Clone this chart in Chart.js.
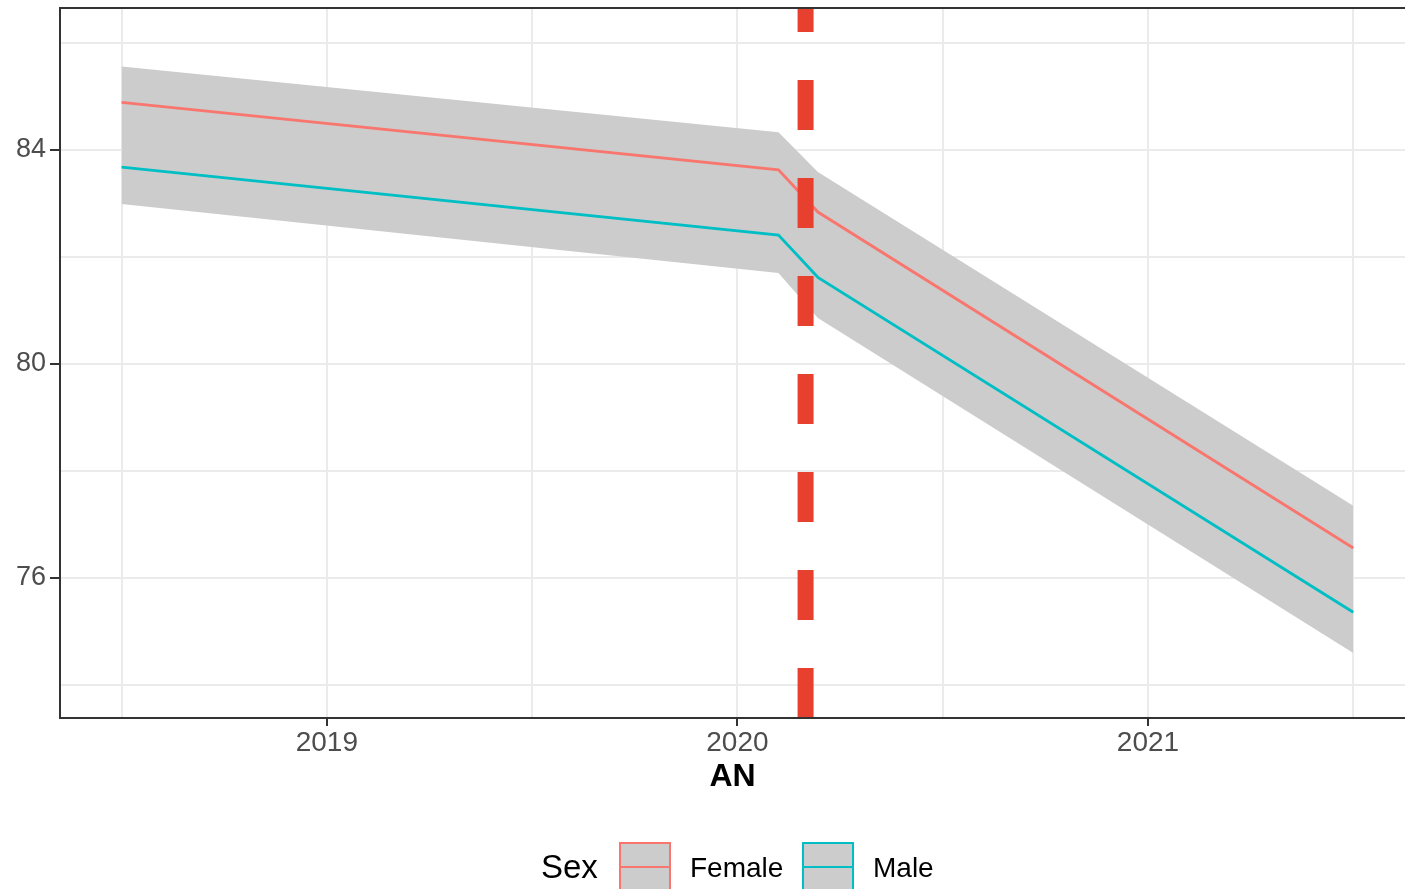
<!DOCTYPE html>
<html>
<head>
<meta charset="utf-8">
<script src="https://cdn.jsdelivr.net/npm/chart.js@4"></script>
<style>
  html, body { margin: 0; padding: 0; background: #ffffff; overflow: hidden; }
  #wrap { width: 1405px; height: 889px; position: relative; }
</style>
</head>
<body>
<div id="wrap"><canvas id="chart"></canvas></div>
<script>
// time axis (decimal years) where the fitted lines bend
const years = [2018.5, 2020.1, 2020.196, 2021.5];
const female = [84.89, 83.63, 82.84, 76.56];
const male = [83.68, 82.41, 81.62, 75.36];
const ribbonUpper = [85.56, 84.33, 83.59, 77.35];
const ribbonLower = [82.99, 81.70, 80.86, 74.60];

// intervention date and axis ranges
const cutYear = 2020.166;
const yMin = 73.383, yMax = 86.654;
const xMin = 2018.35, xMax = 2021.626;

const xTicks = [2018.5, 2019, 2019.5, 2020, 2020.5, 2021, 2021.5];
const xLabels = [2019, 2020, 2021];
const yTicks = [74, 76, 78, 80, 82, 84, 86];
const yLabels = [76, 80, 84];

const sexNames = ['Female', 'Male'];
const sexColors = ['#F8766D', '#00BFC4'];

const toPts = (vals) => years.map((x, i) => ({x: x, y: vals[i]}));
const font = 'Liberation Sans, Arial, sans-serif';

const frame = {
    id: 'frame',
    afterDatasetsDraw(chart) {
        const {ctx, chartArea} = chart;
        ctx.save();
        ctx.strokeStyle = '#333333';
        ctx.lineWidth = 2;
        ctx.beginPath();
        ctx.moveTo(chartArea.right + 5, chartArea.top);
        ctx.lineTo(chartArea.left, chartArea.top);
        ctx.lineTo(chartArea.left, chartArea.bottom);
        ctx.lineTo(chartArea.right + 5, chartArea.bottom);
        ctx.stroke();
        ctx.restore();
    }
};

const sexLegend = {
    id: 'sexLegend',
    afterDraw(chart) {
        const ctx = chart.ctx;
        ctx.save();
        ctx.textBaseline = 'alphabetic';
        ctx.textAlign = 'left';
        ctx.fillStyle = '#000000';
        ctx.font = '33px ' + font;
        ctx.fillText('Sex', 541, 878);
        const boxX = [620, 803];
        const textX = [690, 873];
        sexNames.forEach((name, i) => {
            ctx.fillStyle = '#cccccc';
            ctx.fillRect(boxX[i], 843, 50, 48);
            ctx.strokeStyle = sexColors[i];
            ctx.lineWidth = 2;
            ctx.strokeRect(boxX[i], 843, 50, 48);
            ctx.beginPath();
            ctx.moveTo(boxX[i], 867);
            ctx.lineTo(boxX[i] + 50, 867);
            ctx.stroke();
            ctx.fillStyle = '#000000';
            ctx.font = '28px ' + font;
            ctx.fillText(name, textX[i], 877);
        });
        ctx.restore();
    }
};

const datasets = [
    {
        label: 'cut',
        data: [{x: cutYear, y: yMin}, {x: cutYear, y: yMax}],
        borderColor: '#e8402f',
        borderWidth: 16,
        borderDash: [50, 48],
        pointRadius: 0,
        fill: false
    },
    {
        label: sexNames[0],
        data: toPts(female),
        borderColor: sexColors[0],
        borderWidth: 2.8,
        pointRadius: 0,
        fill: false
    },
    {
        label: sexNames[1],
        data: toPts(male),
        borderColor: sexColors[1],
        borderWidth: 2.8,
        pointRadius: 0,
        fill: false
    },
    {
        label: 'upper',
        data: toPts(ribbonUpper),
        borderWidth: 0,
        borderColor: 'rgba(0,0,0,0)',
        backgroundColor: '#cccccc',
        pointRadius: 0,
        fill: '+1'
    },
    {
        label: 'lower',
        data: toPts(ribbonLower),
        borderWidth: 0,
        borderColor: 'rgba(0,0,0,0)',
        pointRadius: 0,
        fill: false
    }
];

new Chart(document.getElementById('chart'), {
    type: 'line',
    data: {datasets: datasets},
    plugins: [frame, sexLegend],
    options: {
        responsive: true,
        maintainAspectRatio: false,
        animation: false,
        layout: {padding: {top: 8, left: 0, right: 0, bottom: 91}},
        scales: {
            x: {
                type: 'linear',
                min: xMin,
                max: xMax,
                afterBuildTicks: (scale) => { scale.ticks = xTicks.map(v => ({value: v})); },
                afterFit: (scale) => {
                    scale.height = 80;
                    scale.paddingLeft = 0;
                    scale.paddingRight = 0;
                },
                border: {display: false},
                grid: {
                    color: '#ebebeb',
                    lineWidth: 2,
                    tickLength: 8,
                    tickWidth: 2,
                    tickColor: (c) => xLabels.includes(c.tick && c.tick.value) ? '#333333' : 'rgba(0,0,0,0)'
                },
                ticks: {
                    padding: 0,
                    color: '#4d4d4d',
                    maxRotation: 0,
                    autoSkip: false,
                    font: {family: font, size: 28},
                    callback: (v) => xLabels.includes(v) ? String(v) : ''
                },
                title: {
                    display: true,
                    text: 'AN',
                    color: '#000000',
                    padding: {top: 0, bottom: 2},
                    font: {family: font, size: 32, weight: 'bold'}
                }
            },
            y: {
                type: 'linear',
                min: yMin,
                max: yMax,
                afterBuildTicks: (scale) => { scale.ticks = yTicks.map(v => ({value: v})); },
                afterFit: (scale) => {
                    scale.width = 60;
                    scale.paddingTop = 0;
                    scale.paddingBottom = 0;
                },
                border: {display: false},
                grid: {
                    color: '#ebebeb',
                    lineWidth: 2,
                    tickLength: 10,
                    tickWidth: 2,
                    tickColor: (c) => yLabels.includes(c.tick && c.tick.value) ? '#333333' : 'rgba(0,0,0,0)'
                },
                ticks: {
                    padding: 4,
                    color: '#4d4d4d',
                    autoSkip: false,
                    font: {family: font, size: 27},
                    callback: (v) => yLabels.includes(v) ? String(v) : ''
                }
            }
        },
        plugins: {
            legend: {display: false},
            tooltip: {enabled: false}
        }
    }
});
</script>
</body>
</html>
